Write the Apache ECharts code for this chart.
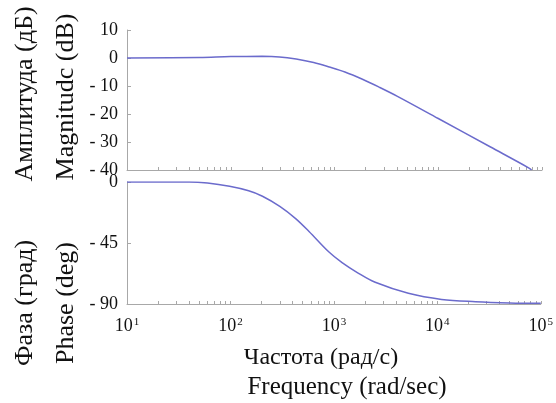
<!DOCTYPE html>
<html>
<head>
<meta charset="utf-8">
<script src="https://cdn.jsdelivr.net/npm/echarts@6/dist/echarts.min.js"></script>
<style>
    html, body { margin: 0; padding: 0; background: #fff; }
    #bode { width: 556px; height: 403px; }
</style>
</head>
<body>
<div id="bode"></div>
<script>
//////////////////////////////
//          数据
/////////////////////////////
// 幅频
var magFreq = [10, 50, 100, 200, 295, 427, 630, 891, 1260, 1860, 2690, 4000, 10000, 31600, 75000, 79400];
var magDb = [0, 0.2, 0.5, 0.6, 0.4, -0.35, -1.6, -3.2, -5.0, -7.6, -10.4, -13.6, -21.6, -31.7, -39.3, -40];
// 相频
var phaseFreq = [10, 40, 60, 98, 150, 204, 300, 427, 575, 891, 1200, 1700, 2510, 5250, 11000, 23400, 50000, 100000];
var phaseDeg = [0, 0, -0.8, -3.2, -6.5, -10.5, -18, -27, -36.5, -51.5, -59.5, -67, -74, -82.1, -86.6, -88.3, -89.2, -89.5];
// 刻度
var decades = [10, 100, 1000, 10000, 100000];
var minorMult = [1, 2, 3, 4, 5, 6, 7, 8, 9];

var tickValues = [];
for (var d = 0; d < decades.length; d++) {
    for (var m = 0; m < minorMult.length; m++) {
        var v = decades[d] * minorMult[m];
        if (v <= 100000) tickValues.push(v);
    }
}

var font = 'Liberation Serif';
var grayLine = '#a8a8a8';
var curveColor = '#6b6bcc';

function pairs(xs, ys) {
    var out = [];
    for (var i = 0; i < xs.length; i++) out.push([xs[i], ys[i]]);
    return out;
}

function dashLabel(v) {
    return v < 0 ? '- ' + (-v) : '' + v;
}

var myChart = echarts.init(document.getElementById('bode'));

var xBase = {
    type: 'log',
    logBase: 10,
    min: 10,
    max: 100000,
    splitLine: { show: false },
    axisLine: { onZero: false, lineStyle: { color: grayLine, width: 1 } },
    axisTick: {
        inside: true,
        length: 3,
        customValues: tickValues,
        lineStyle: { color: grayLine }
    }
};

var option = {
    animation: false,
    grid: [
        { left: 127, top: 30, width: 415, height: 140 },
        { left: 127, top: 182, width: 415, height: 122 }
    ],
    xAxis: [
        echarts.util.merge({ gridIndex: 0, axisLabel: { show: false } }, xBase, true),
        echarts.util.merge({
            gridIndex: 1,
            axisLabel: {
                customValues: decades,
                margin: 13,
                color: '#111',
                fontFamily: font,
                fontSize: 18,
                formatter: function(v) {
                    return '10{s|' + Math.round(Math.log(v) / Math.LN10) + '}';
                },
                rich: {
                    s: { fontFamily: font, fontSize: 11, verticalAlign: 'top', padding: [0, 0, 7, 1], color: '#111' }
                }
            }
        }, xBase, true)
    ],
    yAxis: [{
        gridIndex: 0,
        type: 'value',
        min: -40,
        max: 10,
        interval: 10,
        splitLine: { show: false },
        axisLine: { show: true, onZero: false, lineStyle: { color: grayLine } },
        axisTick: { show: true, inside: true, length: 4, lineStyle: { color: grayLine } },
        axisLabel: { margin: 9, color: '#111', fontFamily: font, fontSize: 18, formatter: dashLabel }
    }, {
        gridIndex: 1,
        type: 'value',
        min: -90,
        max: 0,
        interval: 45,
        splitLine: { show: false },
        axisLine: { show: true, onZero: false, lineStyle: { color: grayLine } },
        axisTick: { show: true, inside: true, length: 4, lineStyle: { color: grayLine } },
        axisLabel: { margin: 9, color: '#111', fontFamily: font, fontSize: 18, formatter: dashLabel }
    }],
    series: [{
        name: 'Magnitude',
        type: 'line',
        xAxisIndex: 0,
        yAxisIndex: 0,
        showSymbol: false,
        smooth: 0.35,
        lineStyle: { color: curveColor, width: 1.5 },
        data: pairs(magFreq, magDb)
    }, {
        name: 'Phase',
        type: 'line',
        xAxisIndex: 1,
        yAxisIndex: 1,
        showSymbol: false,
        smooth: 0.35,
        lineStyle: { color: curveColor, width: 1.5 },
        data: pairs(phaseFreq, phaseDeg)
    }],
    // 坐标轴标题
    graphic: [
        { type: 'text', x: 25, y: 94, rotation: Math.PI / 2,
          style: { text: 'Амплитуда (дБ)', font: '26px "Liberation Serif"', fill: '#111', align: 'center', verticalAlign: 'middle' } },
        { type: 'text', x: 66, y: 97, rotation: Math.PI / 2,
          style: { text: 'Magnitudc (dB)', font: '26px "Liberation Serif"', fill: '#111', align: 'center', verticalAlign: 'middle' } },
        { type: 'text', x: 25, y: 303, rotation: Math.PI / 2,
          style: { text: 'Фаза (град)', font: '26px "Liberation Serif"', fill: '#111', align: 'center', verticalAlign: 'middle' } },
        { type: 'text', x: 66, y: 303, rotation: Math.PI / 2,
          style: { text: 'Phase (deg)', font: '26px "Liberation Serif"', fill: '#111', align: 'center', verticalAlign: 'middle' } },
        { type: 'text', x: 321, y: 358,
          style: { text: 'Частота (рад/с)', font: '24px "Liberation Serif"', fill: '#111', align: 'center', verticalAlign: 'middle' } },
        { type: 'text', x: 347, y: 387,
          style: { text: 'Frequency (rad/sec)', font: '25px "Liberation Serif"', fill: '#111', align: 'center', verticalAlign: 'middle' } }
    ]
};

myChart.setOption(option);

window.addEventListener("resize", function() {
    myChart.resize();
});
</script>
</body>
</html>
